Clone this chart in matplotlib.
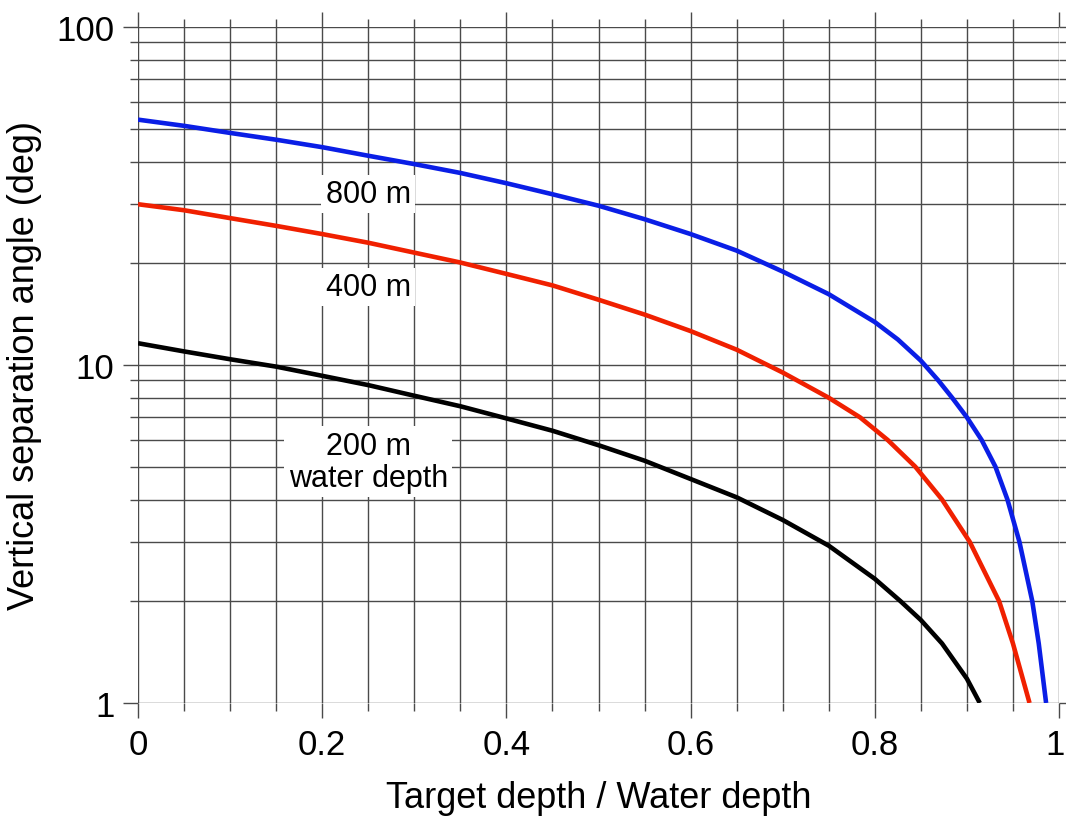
import matplotlib
matplotlib.use("Agg")
import matplotlib.pyplot as plt
import matplotlib.transforms as mtransforms
from matplotlib.ticker import MultipleLocator, LogLocator, NullFormatter, FixedLocator, FixedFormatter

plt.rcParams['font.family'] = ['Liberation Sans', 'DejaVu Sans']

# values
x_800 = [0, 0.05, 0.1, 0.15, 0.2, 0.25, 0.3, 0.35, 0.4, 0.45, 0.5, 0.55, 0.6,
         0.65, 0.7, 0.75, 0.8, 0.825, 0.85, 0.869, 0.884, 0.9, 0.916, 0.931,
         0.944, 0.957, 0.971, 0.978, 0.986]
y_800 = [53.2, 51.0, 48.6, 46.4, 44.1, 41.6, 39.3, 37.0, 34.5, 32.0, 29.6, 27.0, 24.4,
         21.8, 18.9, 16.2, 13.4, 11.9, 10.3, 9.0, 8.0, 7.0, 6.0, 5.0,
         4.0, 3.0, 2.0, 1.5, 1.0]

x_400 = [0, 0.05, 0.1, 0.15, 0.2, 0.25, 0.3, 0.35, 0.4, 0.45, 0.5, 0.55, 0.6,
         0.65, 0.7, 0.75, 0.784, 0.814, 0.844, 0.873, 0.903, 0.935, 0.950, 0.968]
y_400 = [29.9, 28.7, 27.2, 25.8, 24.4, 23.0, 21.5, 20.1, 18.6, 17.2, 15.6, 14.1, 12.6,
         11.1, 9.5, 8.0, 7.0, 6.0, 5.0, 4.0, 3.0, 2.0, 1.5, 1.0]

x_200 = [0, 0.05, 0.1, 0.15, 0.2, 0.25, 0.3, 0.35, 0.4, 0.45, 0.5, 0.55, 0.6,
         0.65, 0.7, 0.75, 0.8, 0.828, 0.85, 0.873, 0.9, 0.914]
y_200 = [11.6, 10.97, 10.4, 9.89, 9.29, 8.72, 8.11, 7.55, 6.95, 6.39, 5.79, 5.21, 4.6,
         4.06, 3.48, 2.92, 2.33, 2.0, 1.76, 1.5, 1.18, 1.0]

labels = ["800 m", "400 m", "200 m\nwater depth"]
label_x = [0.25, 0.25, 0.25]
label_y = [32.1, 17.0, 5.17]

x_ticks = [0, 0.2, 0.4, 0.6, 0.8, 1]
x_ticklabels = ["0", "0.2", "0.4", "0.6", "0.8", "1"]
y_ticks = [1, 10, 100]
y_ticklabels = ["1", "10", "100"]

fig = plt.figure(figsize=(10.66, 8.2), dpi=100)
ax = fig.add_axes([138 / 1066, 116 / 820, 921 / 1066, 676 / 820])

ax.set_yscale('log')
ax.set_xlim(0, 1)
ax.set_ylim(1, 100)

ax.plot(x_800, y_800, color='#0a1ee6', lw=3.3, solid_capstyle='butt', zorder=3)
ax.plot(x_400, y_400, color='#f02000', lw=3.3, solid_capstyle='butt', zorder=3)
ax.plot(x_200, y_200, color='black', lw=3.3, solid_capstyle='butt', zorder=3)

for txt, tx, ty in zip(labels, label_x, label_y):
    ax.text(tx, ty, txt, fontsize=22, ha='center', va='center', zorder=4,
            linespacing=1.1,
            bbox=dict(facecolor='white', edgecolor='none', pad=3))

ax.xaxis.set_major_locator(FixedLocator(x_ticks))
ax.xaxis.set_major_formatter(FixedFormatter(x_ticklabels))
ax.xaxis.set_minor_locator(MultipleLocator(0.05))
ax.yaxis.set_major_locator(FixedLocator(y_ticks))
ax.yaxis.set_major_formatter(FixedFormatter(y_ticklabels))
ax.yaxis.set_minor_locator(LogLocator(base=10, subs=range(2, 10)))
ax.yaxis.set_minor_formatter(NullFormatter())

for s in ax.spines.values():
    s.set_visible(False)

ax.grid(True, which='both', color='#4a4a4a', lw=1)
ax.tick_params(which='major', direction='out', length=11, width=1, color='#4a4a4a',
               labelsize=25, top=True, right=True, pad=6)
ax.tick_params(which='minor', direction='out', length=6, width=1, color='#4a4a4a',
               top=True, right=True)
ax.tick_params(axis='x', which='major', pad=7)

ax.set_xlabel("Target depth / Water depth", fontsize=26, labelpad=14)
ax.set_ylabel("Vertical separation angle (deg)", fontsize=26, labelpad=10)

# keep the last x tick label inside the figure edge
last = ax.get_xticklabels()[-1]
last.set_transform(last.get_transform() +
                   mtransforms.ScaledTranslation(-4 / 100, 0, fig.dpi_scale_trans))

fig.savefig("out.png", dpi=100)
